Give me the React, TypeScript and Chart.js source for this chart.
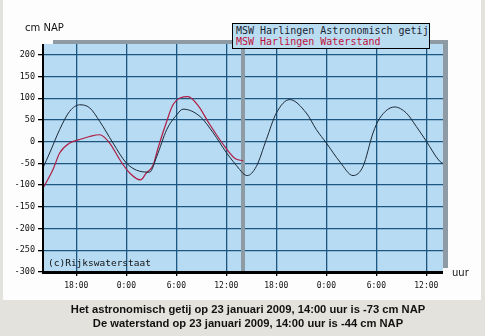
import React, { useEffect, useRef } from "react";
import { Chart, registerables } from "chart.js";

Chart.register(...registerables);

// hours since 22 jan 2009 14:00
const astroHours = [0, 0.8, 2, 3.2, 4.4, 5.6, 6.8, 8.4, 10, 11.6, 12.8, 13.65, 14.85, 16.05, 16.8, 18.85, 20.4, 22, 23.6, 24, 24.5, 25.6, 26.8, 28, 29.6, 31.6, 32.8, 34, 35.65, 37.2, 38.4, 39.6, 40.4, 42.2, 43.6, 44.8, 46, 47.6, 48];
const astroValues = [-60, -26, 28, 70, 85, 78, 47, -3, -49, -68, -70, -34, 28, 62, 75, 58, 21, -25, -64, -73, -78, -57, 5, 66, 97, 66, 28, -3, -47, -78, -57, 20, 54, 80, 66, 35, 1, -45, -50];

const waterHours = [0, 1.2, 2, 3.2, 4.4, 5.6, 6.8, 8, 9.2, 10.4, 11.7, 12.4, 13.2, 13.8, 14.85, 15.6, 17.4, 18.7, 19.9, 21.5, 23, 24];
const waterValues = [-107, -64, -26, -3, 5, 12, 16, -3, -41, -72, -88, -72, -55, -15, 47, 85, 104, 81, 43, -3, -38, -44];

const xTickHours = [4, 10, 16, 22, 28, 34, 40, 46];
const xTickLabels = ["18:00", "0:00", "6:00", "12:00", "18:00", "0:00", "6:00", "12:00"];
const yTickValues = [-300, -250, -200, -150, -100, -50, 0, 50, 100, 150, 200];
const nowHour = 24;

const legendLabels = ["MSW Harlingen Astronomisch getij", "MSW Harlingen Waterstand"];
const footerLines = [
  "Het astronomisch getij op 23 januari 2009, 14:00 uur is -73 cm NAP",
  "De waterstand op 23 januari 2009, 14:00 uur is -44 cm NAP",
];

const PLOT_BG = "#b6dbf2";
const GRID = "#1d5680";
const SHADOW = "#8e9aa4";

const framePlugin = {
  id: "frame",
  beforeDraw(chart: any) {
    const { ctx, chartArea: a } = chart;
    ctx.save();
    ctx.fillStyle = PLOT_BG;
    ctx.fillRect(a.left, a.top, a.right - a.left, a.bottom - a.top);
    ctx.fillStyle = SHADOW;
    ctx.fillRect(a.left + 10, a.top - 4, a.right - a.left - 5, 4);
    ctx.fillRect(a.right, a.top - 4, 5, a.bottom - a.top);
    ctx.restore();
  },
  beforeDatasetsDraw(chart: any) {
    const { ctx, chartArea: a, scales } = chart;
    const x = scales.x.getPixelForValue(nowHour);
    ctx.save();
    ctx.fillStyle = SHADOW;
    ctx.fillRect(x - 2, a.top, 4, a.bottom - a.top);
    ctx.restore();
  },
  afterDraw(chart: any) {
    const { ctx, chartArea: a } = chart;
    ctx.save();
    ctx.fillStyle = "#000";
    ctx.fillRect(a.left - 1, a.bottom - 1, a.right - a.left + 1, 3);
    ctx.fillRect(a.left - 1, a.top, 2, a.bottom - a.top + 2);
    ctx.font = "9.5px 'DejaVu Sans Mono'";
    ctx.textBaseline = "middle";
    ctx.fillStyle = "#111";
    ctx.fillText("(c)Rijkswaterstaat", a.left + 5, a.bottom - 8);
    ctx.restore();
  },
};

export default function App() {
  const ref = useRef<HTMLCanvasElement>(null);
  useEffect(() => {
    if (!ref.current) return;
    const chart = new Chart(ref.current, {
      type: "line",
      data: {
        datasets: [
          {
            label: legendLabels[0],
            data: astroHours.map((h, i) => ({ x: h, y: astroValues[i] })),
            borderColor: "#1c2a38",
            borderWidth: 1,
            pointRadius: 0,
            cubicInterpolationMode: "monotone",
          },
          {
            label: legendLabels[1],
            data: waterHours.map((h, i) => ({ x: h, y: waterValues[i] })),
            borderColor: "#b01c44",
            borderWidth: 1.2,
            pointRadius: 0,
            cubicInterpolationMode: "monotone",
          },
        ],
      },
      options: {
        animation: false,
        responsive: false,
        maintainAspectRatio: false,
        layout: { padding: { left: 0, top: 44, right: 42, bottom: 0 } },
        plugins: { legend: { display: false }, tooltip: { enabled: false } },
        scales: {
          x: {
            type: "linear",
            min: 0,
            max: 48,
            afterFit: (s: any) => { s.height = 64; },
            afterBuildTicks: (s: any) => { s.ticks = xTickHours.map((v) => ({ value: v })); },
            ticks: {
              autoSkip: false,
              maxRotation: 0,
              padding: 5,
              color: "#111",
              font: { family: "'DejaVu Sans Mono'", size: 8 },
              callback: (v: any) => xTickLabels[xTickHours.indexOf(Number(v))] ?? "",
            },
            grid: { color: GRID, lineWidth: 1.3, tickLength: 4, tickColor: "#000", drawTicks: true },
            border: { display: false },
          },
          y: {
            type: "linear",
            min: -300,
            max: 225,
            afterFit: (s: any) => { s.width = 43; },
            afterBuildTicks: (s: any) => { s.ticks = yTickValues.map((v) => ({ value: v })); },
            ticks: {
              padding: 3,
              color: "#111",
              font: { family: "'DejaVu Sans Mono'", size: 8.5 },
            },
            grid: { color: GRID, lineWidth: 1.3, tickLength: 5, tickColor: "#000", drawTicks: true },
            border: { display: false },
          },
        },
      },
      plugins: [framePlugin],
    } as any);
    return () => chart.destroy();
  }, []);

  return (
    <div style={{ position: "fixed", left: 0, top: 0, width: 485, height: 336, background: "#e4e2dc", overflow: "hidden" }}>
      <div style={{ position: "absolute", left: 3, top: 0, width: 478, height: 300, background: "#fdfdfd" }} />
      <canvas ref={ref} width={485} height={336} style={{ position: "absolute", left: 0, top: 0, width: 485, height: 336 }} />
      <div style={{ position: "absolute", left: 25, top: 22, font: "10px 'DejaVu Sans'", color: "#111" }}>cm NAP</div>
      <div style={{ position: "absolute", left: 452, top: 267, font: "10px 'DejaVu Sans'", color: "#111" }}>uur</div>
      <div style={{ position: "absolute", left: 232, top: 23, width: 198, height: 26, background: "#badcf0", border: "1px solid #000", boxSizing: "border-box", font: "10px 'DejaVu Sans Mono'", lineHeight: "11px", padding: "1px 0 0 3px", whiteSpace: "nowrap" }}>
        <div style={{ color: "#1a2430" }}>{legendLabels[0]}</div>
        <div style={{ color: "#c0103c" }}>{legendLabels[1]}</div>
      </div>
      <div style={{ position: "absolute", left: 0, top: 302, width: 496, textAlign: "center", font: "bold 11.2px 'Liberation Sans', Arial, sans-serif", lineHeight: "14px", color: "#111" }}>
        <div>{footerLines[0]}</div>
        <div>{footerLines[1]}</div>
      </div>
    </div>
  );
}
